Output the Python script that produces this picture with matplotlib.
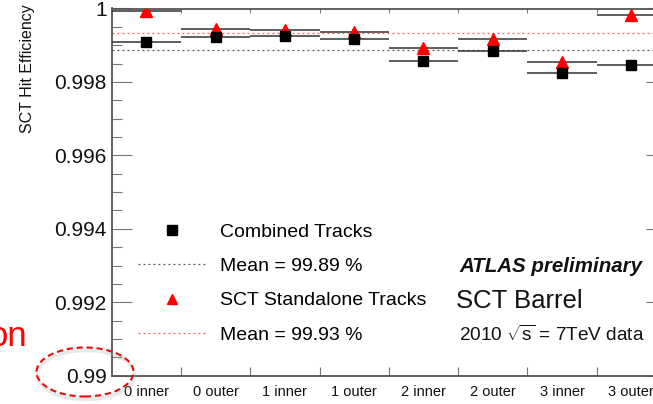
import matplotlib
matplotlib.use('Agg')
import matplotlib.pyplot as plt
from matplotlib.lines import Line2D
from matplotlib.patches import Ellipse
from matplotlib.ticker import MultipleLocator, FuncFormatter

# ---------------- data ----------------
layers = ['0 inner', '0 outer', '1 inner', '1 outer',
          '2 inner', '2 outer', '3 inner', '3 outer']
combined = [0.99908, 0.99923, 0.99926, 0.99916, 0.99857, 0.99884, 0.99824, 0.99845]
standalone = [0.99993, 0.99945, 0.99941, 0.99935, 0.99892, 0.99916, 0.99853, 0.99982]
mean_combined = 0.99887
mean_standalone = 0.99934
y_ticks = [0.99, 0.992, 0.994, 0.996, 0.998, 1.0]

# ---------------- style ----------------
W, H = 653, 404
plt.rcParams['font.family'] = ['Liberation Sans', 'DejaVu Sans']
plt.rcParams['mathtext.fontset'] = 'custom'
plt.rcParams['mathtext.rm'] = 'Liberation Sans'
plt.rcParams['mathtext.it'] = 'Liberation Sans:italic'

fig = plt.figure(figsize=(W / 100, H / 100), dpi=100)
fig.patch.set_facecolor('white')


def fx(px):
    return px / W


def fy(py):
    return 1 - py / H


ax_l, ax_r, ax_t, ax_b = 111.7, 666.0, 8.5, 375.7
ax = fig.add_axes([fx(ax_l), fy(ax_b), (ax_r - ax_l) / W, (ax_b - ax_t) / H])
x = list(range(len(layers)))
ax.set_xlim(-0.5, len(layers) - 0.5)
ax.set_ylim(y_ticks[0], y_ticks[-1])

# mean lines
ax.axhline(mean_combined, color='#555555', lw=0.9, ls=(0, (1.5, 2.5)), zorder=2)
ax.axhline(mean_standalone, color='#ff5a5a', lw=0.9, ls=(0, (1.5, 2.5)), zorder=2)

# data
ax.errorbar(x, standalone, xerr=0.5, fmt='^', color='red', mec='red', ms=8,
            ecolor='#333333', elinewidth=1.1, capsize=0, zorder=3)
ax.errorbar(x, combined, xerr=0.5, fmt='s', color='black', mec='black', ms=7.8,
            ecolor='#333333', elinewidth=1.1, capsize=0, zorder=4)

# y axis ticks
ax.set_yticks(y_ticks)
ax.yaxis.set_minor_locator(MultipleLocator(0.0005))
ax.yaxis.set_major_formatter(FuncFormatter(lambda v, p: f'{v:.3f}'.rstrip('0').rstrip('.')))
ax.tick_params(axis='y', which='major', direction='in', length=14.4, width=0.8,
               color='#777777', left=True, right=True, labelsize=15, pad=3.5,
               labelcolor='#111111')
ax.tick_params(axis='y', which='minor', direction='in', length=7.2, width=0.8,
               color='#777777', left=True, right=True)

# x axis ticks: bin edges (major), labels at bin centres (minor)
edges = [i + 0.5 for i in x[:-1]]
ax.set_xticks(edges)
ax.set_xticklabels([''] * len(edges))
ax.set_xticks(x, minor=True)
ax.set_xticklabels(layers, minor=True)
ax.tick_params(axis='x', which='major', direction='in', length=6.8, width=0.8,
               color='#777777', top=False, bottom=True)
ax.tick_params(axis='x', which='minor', length=0, labelsize=10.5, pad=6.8,
               labelcolor='#111111')
sec = ax.secondary_xaxis('top')
sec.set_xticks(edges)
sec.tick_params(direction='in', length=3.6, width=0.8, color='#777777', labeltop=False)
sec.spines['top'].set_visible(False)

for s in ax.spines.values():
    s.set_color('#555555')
    s.set_linewidth(1.3)

# legend
handles = [
    Line2D([], [], marker='s', color='black', ls='none', ms=7.8),
    Line2D([], [], color='#555555', lw=0.9, ls=(0, (1.5, 2.5))),
    Line2D([], [], marker='^', color='red', ls='none', ms=7.5),
    Line2D([], [], color='#ff5a5a', lw=0.9, ls=(0, (1.5, 2.5))),
]
labels = ['Combined Tracks', f'Mean = {mean_combined * 100:.2f} %',
          'SCT Standalone Tracks', f'Mean = {mean_standalone * 100:.2f} %']
ax.legend(handles, labels, loc='upper left', bbox_to_anchor=(fx(138), fy(223.5)),
          bbox_transform=fig.transFigure, frameon=False, fontsize=14,
          handlelength=3.45, handletextpad=0.77, labelspacing=0.85,
          borderpad=0, borderaxespad=0, numpoints=1)

# annotations
fig.text(fx(459), fy(271.7), 'ATLAS preliminary', fontsize=14.8, fontweight='bold',
         fontstyle='italic', ha='left', va='baseline', color='#111111')
fig.text(fx(456.5), fy(307.7), 'SCT Barrel', fontsize=18.5, ha='left', va='baseline',
         color='#111111')
fig.text(fx(459), fy(340.7), r'2010 $\sqrt{\mathrm{s}}$ = 7TeV data', fontsize=13.7,
         ha='left', va='baseline', color='#111111')

# y label
fig.text(fx(27.5), fy(68.5), 'SCT Hit Efficiency', rotation=90, ha='center',
         va='center', fontsize=11.5, color='#111111')

# slide overlays
fig.text(fx(27), fy(345.7), 'on', ha='right', va='baseline', fontsize=25, color='#ff0000')
fig.add_artist(Ellipse((fx(86), fy(375)), 97 / W, 49 / H, transform=fig.transFigure,
                       fill=False, ec='#aaaaaa', lw=2.5, alpha=0.25, zorder=9))
fig.add_artist(Ellipse((fx(85), fy(372)), 97 / W, 49 / H, transform=fig.transFigure,
                       fill=False, ec='#e01010', lw=1.5, ls=(0, (3, 1.8)), zorder=10))

fig.savefig('out.png', dpi=100, facecolor='white')
